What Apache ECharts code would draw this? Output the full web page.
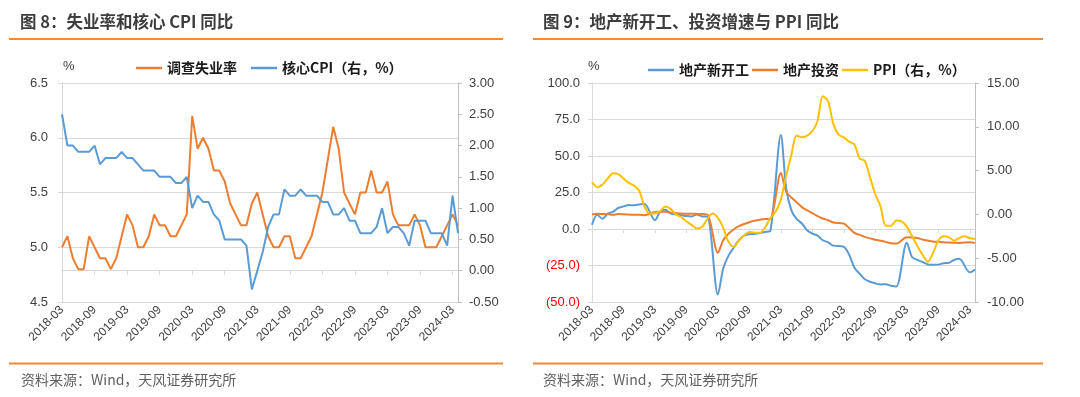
<!DOCTYPE html>
<html>
<head>
<meta charset="utf-8">
<title>失业率、核心CPI与地产、PPI</title>
<script src="https://cdn.jsdelivr.net/npm/echarts@6/dist/echarts.min.js"></script>
<style>
    html, body { margin: 0; padding: 0; background: #fff; }
    #myChart { width: 1080px; height: 397px; }
</style>
</head>
<body>
<div id="myChart"></div>
<script>
    // x axis: one entry per month, a label every 6th
    var months = [
        '2018-03','2018-04','2018-05','2018-06','2018-07','2018-08','2018-09','2018-10','2018-11','2018-12',
        '2019-01','2019-02','2019-03','2019-04','2019-05','2019-06','2019-07','2019-08','2019-09','2019-10','2019-11','2019-12',
        '2020-01','2020-02','2020-03','2020-04','2020-05','2020-06','2020-07','2020-08','2020-09','2020-10','2020-11','2020-12',
        '2021-01','2021-02','2021-03','2021-04','2021-05','2021-06','2021-07','2021-08','2021-09','2021-10','2021-11','2021-12',
        '2022-01','2022-02','2022-03','2022-04','2022-05','2022-06','2022-07','2022-08','2022-09','2022-10','2022-11','2022-12',
        '2023-01','2023-02','2023-03','2023-04','2023-05','2023-06','2023-07','2023-08','2023-09','2023-10','2023-11','2023-12',
        '2024-01','2024-02','2024-03','2024-04'
    ];

    /* 图8 */
    var unemployment = [
        5.0, 5.1, 4.9, 4.8, 4.8, 5.1, 5.0, 4.9, 4.9, 4.8, 4.9,
        5.1, 5.3, 5.2, 5.0, 5.0, 5.1, 5.3, 5.2, 5.2, 5.1, 5.1, 5.2,
        5.3, 6.2, 5.9, 6.0, 5.9, 5.7, 5.7, 5.6, 5.4, 5.3, 5.2, 5.2,
        5.4, 5.5, 5.3, 5.1, 5.0, 5.0, 5.1, 5.1, 4.9, 4.9, 5.0, 5.1,
        5.3, 5.5, 5.8, 6.1, 5.9, 5.5, 5.4, 5.3, 5.5, 5.5, 5.7, 5.5,
        5.5, 5.6, 5.3, 5.2, 5.2, 5.2, 5.3, 5.2, 5.0, 5.0, 5.0, 5.1,
        5.2, 5.3, 5.2
    ];
    var coreCpi = [
        2.5, 2.0, 2.0, 1.9, 1.9, 1.9, 2.0, 1.7, 1.8, 1.8, 1.8,
        1.9, 1.8, 1.8, 1.7, 1.6, 1.6, 1.6, 1.5, 1.5, 1.5, 1.4, 1.4,
        1.5, 1.0, 1.2, 1.1, 1.1, 0.9, 0.8, 0.5, 0.5, 0.5, 0.5, 0.4,
        -0.3, 0.0, 0.3, 0.7, 0.9, 0.9, 1.3, 1.2, 1.2, 1.3, 1.2, 1.2,
        1.2, 1.1, 1.1, 0.9, 0.9, 1.0, 0.8, 0.8, 0.6, 0.6, 0.6, 0.7,
        1.0, 0.6, 0.7, 0.7, 0.6, 0.4, 0.8, 0.8, 0.8, 0.6, 0.6, 0.6,
        0.4, 1.2, 0.6
    ];

    /* 图9  (null = 1月无数据) */
    var newStarts = [
        2.9, 9.7, 7.0, 10.5, 11.8, 14.4, 15.5, 16.4, 16.3, 16.8, 17.2,
        null, 6.0, 11.9, 13.1, 10.5, 10.1, 9.5, 8.9, 8.6, 10.0, 8.6, 8.5,
        null, -44.9, -27.2, -18.4, -12.8, -7.6, -4.5, -3.6, -3.4, -2.7, -2.0, -1.2,
        null, 64.3, 28.2, 12.8, 6.9, 3.8, -0.9, -3.2, -4.5, -7.7, -9.1, -11.4,
        null, -12.2, -17.5, -26.3, -30.6, -34.4, -36.1, -37.2, -38.0, -37.8, -38.9, -39.4,
        null, -9.4, -19.2, -21.2, -22.6, -24.3, -24.5, -24.4, -23.4, -23.2, -21.2, -20.4,
        null, -29.7, -27.8
    ];
    var reInvest = [
        9.9, 10.4, 10.3, 10.2, 9.7, 10.2, 10.1, 9.9, 9.7, 9.7, 9.5,
        null, 11.6, 11.8, 11.9, 11.2, 10.9, 10.6, 10.5, 10.5, 10.3, 10.2, 9.9,
        null, -16.3, -7.7, -3.3, -0.3, 1.9, 3.4, 4.6, 5.6, 6.3, 6.8, 7.0,
        null, 38.3, 25.6, 21.6, 18.3, 15.0, 12.7, 10.9, 8.8, 7.2, 6.0, 4.4,
        null, 3.7, 0.7, -2.7, -4.0, -5.4, -6.4, -7.4, -8.0, -8.8, -9.8, -10.0,
        null, -5.7, -5.8, -6.2, -7.2, -7.9, -8.5, -8.8, -9.1, -9.3, -9.4, -9.6,
        null, -9.0, -9.5
    ];
    var ppi = [
        3.7, 3.1, 3.4, 4.1, 4.7, 4.6, 4.1, 3.6, 3.3, 2.7, 0.9,
        0.1, 0.1, 0.4, 0.9, 0.6, 0.0, -0.3, -0.8, -1.2, -1.6, -1.4, -0.5,
        0.1, -0.4, -1.5, -3.1, -3.7, -3.0, -2.4, -2.0, -2.1, -2.1, -1.5, -0.4,
        0.3, 1.7, 4.4, 6.8, 9.0, 8.8, 9.0, 9.5, 10.7, 13.5, 12.9, 10.3,
        9.1, 8.8, 8.3, 8.0, 6.4, 6.1, 4.2, 2.3, 0.9, -1.3, -1.3, -0.7,
        -0.8, -1.4, -2.5, -3.6, -4.6, -5.4, -4.4, -3.0, -2.5, -2.6, -3.0, -2.7,
        -2.5, -2.7, -2.8
    ];

    var latin = '"Liberation Sans", Arial, "Noto Sans CJK SC", sans-serif';
    var cjk = '"Noto Sans CJK SC", "Liberation Sans", sans-serif';
    var gridGray = '#d9d9d9';
    var axisGray = '#bfbfbf';
    var textGray = '#404040';
    var orangeRule = '#F08A33';

    function xAxisFor(idx) {
        return {
            type: 'category', gridIndex: idx, data: months, boundaryGap: false,
            axisLine: {lineStyle: {color: gridGray}},
            axisTick: {show: true, interval: 5, length: 4, lineStyle: {color: gridGray}},
            axisLabel: {interval: 5, rotate: 45, fontSize: 12, color: textGray, fontFamily: latin, margin: 6},
            splitLine: {show: false}
        };
    }

    function lineSeries(name, data, color, xi, yi, smooth) {
        return {
            name: name, type: 'line', xAxisIndex: xi, yAxisIndex: yi, data: data,
            showSymbol: false, connectNulls: true, smooth: smooth,
            lineStyle: {width: 2, color: color}, itemStyle: {color: color}
        };
    }

    var myChart = echarts.init(document.getElementById('myChart'));

    var option = {
        animation: false,
        backgroundColor: '#fff',
        title: [
            {text: '图 8：失业率和核心 CPI 同比', left: 20, top: 13, padding: 0,
                textStyle: {fontSize: 16.5, fontWeight: 'bold', color: '#3d3d3d', fontFamily: cjk}},
            {text: '图 9：地产新开工、投资增速与 PPI 同比', left: 543, top: 13, padding: 0,
                textStyle: {fontSize: 16.5, fontWeight: 'bold', color: '#3d3d3d', fontFamily: cjk}},
            {text: '资料来源：Wind，天风证券研究所', left: 21, top: 373, padding: 0,
                textStyle: {fontSize: 14, fontWeight: 'normal', color: '#5f5f5f', fontFamily: cjk}},
            {text: '资料来源：Wind，天风证券研究所', left: 543, top: 373, padding: 0,
                textStyle: {fontSize: 14, fontWeight: 'normal', color: '#5f5f5f', fontFamily: cjk}}
        ],
        legend: [
            {data: ['调查失业率', '核心CPI（右，%）'], left: 131, top: 56, icon: 'rect',
                itemWidth: 26, itemHeight: 2.5, itemGap: 14,
                textStyle: {fontSize: 14, fontWeight: 'bold', color: '#1a1a1a', fontFamily: cjk}},
            {data: ['地产新开工', '地产投资', 'PPI（右，%）'], left: 643, top: 58, icon: 'rect',
                itemWidth: 26, itemHeight: 2.5, itemGap: 3,
                textStyle: {fontSize: 14, fontWeight: 'bold', color: '#1a1a1a', fontFamily: cjk}}
        ],
        grid: [
            {left: 62, top: 83, width: 396, height: 219},
            {left: 592, top: 83, width: 383, height: 219}
        ],
        xAxis: [xAxisFor(0), xAxisFor(1)],
        yAxis: [
            {type: 'value', gridIndex: 0, position: 'left', min: 4.5, max: 6.5, interval: 0.5,
                axisLine: {show: true, lineStyle: {color: gridGray}},
                axisTick: {show: true, length: 4, lineStyle: {color: gridGray}},
                axisLabel: {formatter: function (v) { return v.toFixed(1); },
                    fontSize: 13, color: textGray, fontFamily: latin, margin: 14},
                splitLine: {lineStyle: {color: gridGray}}},
            {type: 'value', gridIndex: 0, position: 'right', min: -0.5, max: 3, interval: 0.5,
                axisLine: {show: true, lineStyle: {color: axisGray}},
                axisTick: {show: true, length: 4, lineStyle: {color: axisGray}},
                axisLabel: {formatter: function (v) { return v.toFixed(2); },
                    fontSize: 13, color: textGray, fontFamily: latin, margin: 11},
                splitLine: {show: false}},
            {type: 'value', gridIndex: 1, position: 'left', min: -50, max: 100, interval: 25,
                axisLine: {show: true, lineStyle: {color: gridGray}},
                axisTick: {show: true, length: 4, lineStyle: {color: gridGray}},
                axisLabel: {
                    formatter: function (v) {
                        return v < 0 ? '{neg|(' + Math.abs(v).toFixed(1) + ')}' : v.toFixed(1);
                    },
                    rich: {neg: {color: '#ff0000', fontSize: 13, fontFamily: latin}},
                    fontSize: 13, color: textGray, fontFamily: latin, margin: 12},
                splitLine: {lineStyle: {color: gridGray}}},
            {type: 'value', gridIndex: 1, position: 'right', min: -10, max: 15, interval: 5,
                axisLine: {show: true, lineStyle: {color: axisGray}},
                axisTick: {show: true, length: 4, lineStyle: {color: axisGray}},
                axisLabel: {formatter: function (v) { return v.toFixed(2); },
                    fontSize: 13, color: textGray, fontFamily: latin, margin: 12},
                splitLine: {show: false}}
        ],
        graphic: [
            {type: 'line', shape: {x1: 9, y1: 39, x2: 503, y2: 39}, style: {stroke: orangeRule, lineWidth: 2}},
            {type: 'line', shape: {x1: 533, y1: 39, x2: 1043, y2: 39}, style: {stroke: orangeRule, lineWidth: 2}},
            {type: 'line', shape: {x1: 9, y1: 363.5, x2: 503, y2: 363.5}, style: {stroke: orangeRule, lineWidth: 2}},
            {type: 'line', shape: {x1: 533, y1: 363.5, x2: 1043, y2: 363.5}, style: {stroke: orangeRule, lineWidth: 2}},
            {type: 'text', left: 63, top: 60, style: {text: '%', fontSize: 13, fill: textGray, fontFamily: latin}},
            {type: 'text', left: 588, top: 60, style: {text: '%', fontSize: 13, fill: textGray, fontFamily: latin}}
        ],
        series: [
            lineSeries('调查失业率', unemployment, '#ED7D31', 0, 0, false),
            lineSeries('核心CPI（右，%）', coreCpi, '#5B9BD5', 0, 1, false),
            lineSeries('地产新开工', newStarts, '#5B9BD5', 1, 2, 0.3),
            lineSeries('地产投资', reInvest, '#ED7D31', 1, 2, 0.3),
            lineSeries('PPI（右，%）', ppi, '#FFC000', 1, 3, 0.3)
        ]
    };

    myChart.setOption(option);
</script>
</body>
</html>
